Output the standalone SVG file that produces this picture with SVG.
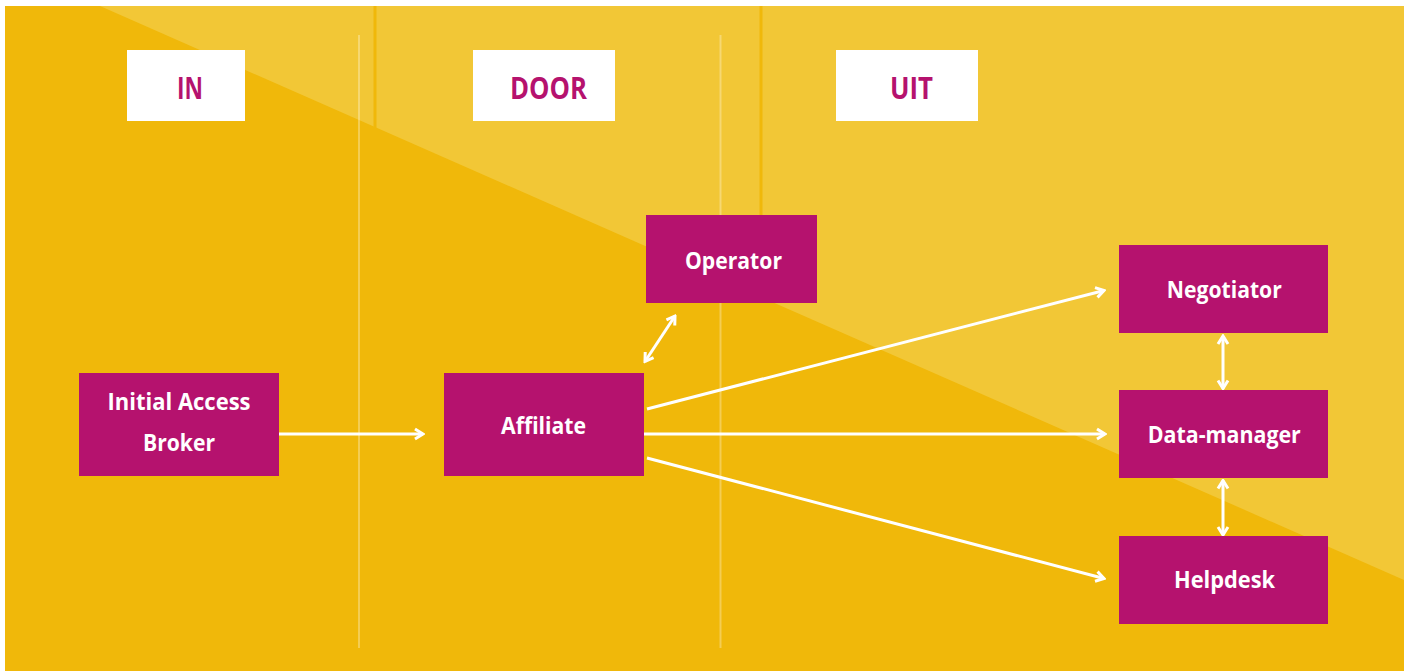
<svg xmlns="http://www.w3.org/2000/svg" width="1407" height="671" viewBox="0 0 1407 671">
  <style>
    .hdr { fill: #ffffff; }
    .hdr-label { font-family: "Open Sans", "Noto Sans", sans-serif; font-weight: 700; font-size: 30px; fill: #b5126e; text-anchor: middle; }
    .node rect { fill: #b5126e; }
    .node text { font-family: "Open Sans", "Noto Sans", sans-serif; font-weight: 700; font-size: 24px; fill: #ffffff; text-anchor: middle; }
    .lane { stroke: #ffffff; stroke-opacity: 0.3; stroke-width: 2; }
    .rule { stroke: #f0b80a; stroke-width: 3; }
    .link { stroke: #ffffff; stroke-width: 3; fill: none; }
  </style>
  <defs>
    <marker id="chev" viewBox="-10 -7 12 14" markerWidth="12" markerHeight="14" refX="0" refY="0" markerUnits="userSpaceOnUse" orient="auto-start-reverse">
      <path d="M-8,-5 L0,0 L-8,5" fill="none" stroke="#ffffff" stroke-width="3"/>
    </marker>
  </defs>

  <!-- background panel -->
  <rect x="0" y="0" width="1407" height="671" fill="#ffffff"/>
  <rect x="5" y="6" width="1399" height="665" fill="#f0b80a"/>
  <polygon points="100,6 1404,6 1404,580" fill="#f2c736"/>

  <!-- column rules -->
  <line class="rule" x1="375" y1="6" x2="375" y2="671"/>
  <line class="rule" x1="761" y1="6" x2="761" y2="671"/>
  <line class="lane" x1="359" y1="35" x2="359" y2="648"/>
  <line class="lane" x1="720.5" y1="35" x2="720.5" y2="648"/>

  <!-- column headers -->
  <g id="hdr-in">
    <rect class="hdr" x="127" y="50" width="118" height="71"/>
    <text class="hdr-label" x="190" y="99" textLength="26" lengthAdjust="spacingAndGlyphs">IN</text>
  </g>
  <g id="hdr-door">
    <rect class="hdr" x="473" y="50" width="142" height="71"/>
    <text class="hdr-label" x="548.5" y="99" textLength="77" lengthAdjust="spacingAndGlyphs">DOOR</text>
  </g>
  <g id="hdr-uit">
    <rect class="hdr" x="836" y="50" width="142" height="71"/>
    <text class="hdr-label" x="911.5" y="99" textLength="43" lengthAdjust="spacingAndGlyphs">UIT</text>
  </g>

  <!-- connectors -->
  <g id="connectors">
    <line class="link" x1="279" y1="434" x2="423" y2="434" marker-end="url(#chev)"/>
    <line class="link" x1="644" y1="434" x2="1105" y2="434" marker-end="url(#chev)"/>
    <line class="link" x1="647" y1="409" x2="1104" y2="290.5" marker-end="url(#chev)"/>
    <line class="link" x1="647" y1="458" x2="1104" y2="578.5" marker-end="url(#chev)"/>
    <line class="link" x1="645" y1="361.5" x2="675" y2="316" marker-start="url(#chev)" marker-end="url(#chev)"/>
    <line class="link" x1="1223" y1="336" x2="1223" y2="388.5" marker-start="url(#chev)" marker-end="url(#chev)"/>
    <line class="link" x1="1223" y1="480.5" x2="1223" y2="535" marker-start="url(#chev)" marker-end="url(#chev)"/>
  </g>

  <!-- nodes -->
  <g id="initial-access-broker" class="node">
    <rect x="79" y="373" width="200" height="103"/>
    <text x="179" y="410" textLength="143" lengthAdjust="spacingAndGlyphs">Initial Access</text>
    <text x="179" y="450.5" textLength="72" lengthAdjust="spacingAndGlyphs">Broker</text>
  </g>
  <g id="affiliate" class="node">
    <rect x="444" y="373" width="200" height="103"/>
    <text x="543.5" y="433.5" textLength="85" lengthAdjust="spacingAndGlyphs">Affiliate</text>
  </g>
  <g id="operator" class="node">
    <rect x="646" y="215" width="171" height="88"/>
    <text x="733.5" y="269" textLength="97" lengthAdjust="spacingAndGlyphs">Operator</text>
  </g>
  <g id="negotiator" class="node">
    <rect x="1119" y="245" width="209" height="88"/>
    <text x="1224.3" y="297.5" textLength="115" lengthAdjust="spacingAndGlyphs">Negotiator</text>
  </g>
  <g id="data-manager" class="node">
    <rect x="1119" y="390" width="209" height="88"/>
    <text x="1224.3" y="442.5" textLength="153" lengthAdjust="spacingAndGlyphs">Data-manager</text>
  </g>
  <g id="helpdesk" class="node">
    <rect x="1119" y="536" width="209" height="88"/>
    <text x="1224.5" y="588" textLength="101" lengthAdjust="spacingAndGlyphs">Helpdesk</text>
  </g>
</svg>
